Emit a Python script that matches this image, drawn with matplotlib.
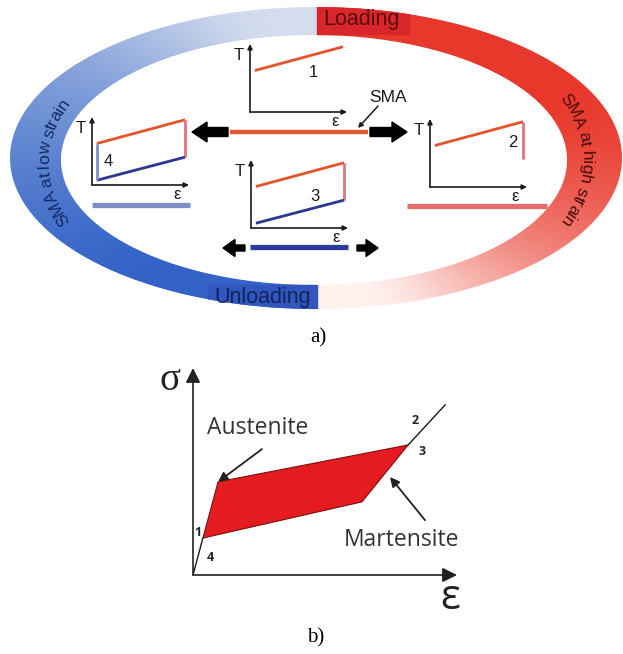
import numpy as np
import matplotlib
matplotlib.use("Agg")
import matplotlib.pyplot as plt
from matplotlib.patches import Ellipse, Rectangle, FancyArrow
from matplotlib.font_manager import FontProperties, findfont, get_font

# ------------------------------------------------------------------ data
# mini T-epsilon sketches (normalised units)
mini_strain = [0.05, 0.96]
T_loading = [0.61, 0.96]
T_unloading = [0.07, 0.41]
stage_labels = ["1", "2", "3", "4"]

# stress-strain loop of part b)
loop_strain = [0.30, 0.76, 6.52, 5.12]
loop_stress = [107, 270, 377, 212]
elastic_strain = [0.0, 0.30]
elastic_stress = [0, 107]
mart_strain = [6.52, 7.64]
mart_stress = [377, 493]

RED_LINE = "#e4542c"
BLUE_LINE = "#2b3790"
PINK_LINE = "#e3717c"

W, H = 623, 654
fig = plt.figure(figsize=(W / 100, H / 100), dpi=100)
bg = fig.add_axes([0, 0, 1, 1])
bg.set_xlim(0, W)
bg.set_ylim(H, 0)
bg.axis("off")

# ------------------------------------------------------------------ ring
OCX, OCY, OA, OB = 316, 158, 306, 151
ICX, ICY, IA, IB = 314, 160, 253, 125
yy, xx = np.mgrid[0:H, 0:W] + 0.5


def soft(cx, cy, a, b):
    dx = xx - cx
    dy = yy - cy
    r = np.sqrt((dx / a) ** 2 + (dy / b) ** 2)
    dist = np.hypot(dx, dy)
    d = (1 - r) / np.maximum(r, 1e-6) * dist
    return np.clip(d + 0.5, 0, 1)


alpha = soft(OCX, OCY, OA, OB) * (1 - soft(ICX, ICY, IA, IB))
phi = np.degrees(np.arctan2(-(yy - OCY), xx - OCX))
phi2 = np.where(phi < 0, phi + 360, phi)
t = np.clip((90 - phi) / 180, 0, 1)
u = np.clip((270 - phi2) / 180, 0, 1)


def smooth(z):
    z = np.clip(z, 0, 1)
    return z * z * (3 - 2 * z)


s_red = 1 - 0.97 * smooth((t - 0.4) / 0.5)
s_blue = 1 - 0.9 * smooth((u - 0.3) / 0.6)
red = np.array([0.91, 0.22, 0.17])
blue = np.array([0.20, 0.39, 0.78])
white_r = np.array([1.0, 0.97, 0.96])
white_b = np.array([0.90, 0.92, 0.95])
right = (xx >= 317.5)[..., None]
col_r = s_red[..., None] * red + (1 - s_red[..., None]) * white_r
col_b = s_blue[..., None] * blue + (1 - s_blue[..., None]) * white_b
rgb = np.where(right, col_r, col_b)
img = np.dstack([rgb, alpha])
bg.imshow(img, extent=(0, W, H, 0), interpolation="bilinear", zorder=1)
bg.set_xlim(0, W)
bg.set_ylim(H, 0)

clip_e = Ellipse((OCX, OCY), 2 * OA, 2 * OB, transform=bg.transData)
r1 = Rectangle((317, 0), 92, 34, color="#d8262a", zorder=2)
bg.add_patch(r1)
r1.set_clip_path(clip_e)
clip_e2 = Ellipse((OCX, OCY), 2 * OA, 2 * OB, transform=bg.transData)
r2 = Rectangle((208, 285), 109, 40, color="#3157bf", zorder=2)
bg.add_patch(r2)
r2.set_clip_path(clip_e2)
bg.text(361, 20, "Loading", fontsize=15.5, family="Liberation Sans",
        color="#5a0d10", ha="center", va="center", zorder=3)
bg.text(263, 297, "Unloading", fontsize=15.5, family="Liberation Sans",
        color="#14235e", ha="center", va="center", zorder=3)


# curved ring labels
def curved_text(s, cx, cy, a, b, t0, fs, color):
    prop = FontProperties(family="Liberation Sans", size=fs)
    font = get_font(findfont(prop))
    font.set_size(fs, 100)
    adv = []
    for ch in s:
        g = font.load_char(ord(ch))
        adv.append(g.linearHoriAdvance / 65536.0)
    adv = np.array(adv)
    cum = np.concatenate([[0], np.cumsum(adv)])
    total = cum[-1]
    ts = np.linspace(-np.pi, 3 * np.pi, 8000)
    px = cx + a * np.cos(ts)
    py = cy + b * np.sin(ts)
    arc = np.concatenate([[0], np.cumsum(np.hypot(np.diff(px), np.diff(py)))])
    a0 = np.interp(t0, ts, arc)
    em = fs * 100 / 72
    for i, ch in enumerate(s):
        if ch == " ":
            continue
        c = cum[i] + adv[i] / 2 - total / 2
        ti = np.interp(a0 + c, arc, ts)
        x = cx + a * np.cos(ti)
        y = cy + b * np.sin(ti)
        dx = -a * np.sin(ti)
        dy = b * np.cos(ti)
        rot = np.degrees(np.arctan2(-dy, dx))
        rr = np.radians(rot)
        upx, upy = -np.sin(rr), -np.cos(rr)
        bg.text(x - upx * 0.35 * em, y - upy * 0.35 * em, ch, rotation=rot,
                rotation_mode="anchor", ha="center", va="baseline", fontsize=fs,
                family="Liberation Sans", color=color, zorder=3)


curved_text("SMA at low strain", 316, 162, 273, 158, np.pi, 12.5, "#152a66")
curved_text("SMA at high strain", 316, 160, 272, 158, 0.0, 12.5, "#4a0c0c")

# ------------------------------------------------------------------ mini charts
MW, MH = 97, 68


def mini(x0, y0):
    ax = fig.add_axes([x0 / W, 1 - y0 / H, MW / W, MH / H])
    ax.set_xlim(0, 1)
    ax.set_ylim(0, 1)
    ax.axis("off")
    ap = dict(arrowstyle="-|>", lw=1.2, color="#1a1a1a", mutation_scale=7,
              shrinkA=0, shrinkB=0)
    ax.annotate("", xy=(0, 1.0), xytext=(0, 0), arrowprops=ap, annotation_clip=False)
    ax.annotate("", xy=(1.0, 0), xytext=(0, 0), arrowprops=ap, annotation_clip=False)
    ax.text(-0.12, 0.83, "T", fontsize=12, family="Liberation Sans",
            ha="center", va="center", color="#1a1a1a")
    ax.text(0.88, -0.14, "ε", fontsize=12, family="Liberation Sans",
            ha="center", va="center", color="#1a1a1a")
    return ax


# chart 1
ax1 = mini(250, 112)
ax1.plot(mini_strain, T_loading, color=RED_LINE, lw=2, solid_capstyle="butt")
ax1.text(0.65, 0.58, stage_labels[0], fontsize=12, family="Liberation Sans",
         ha="center", va="center", color="#1a1a1a")

# chart 2
ax2 = mini(430, 187)
ax2.plot(mini_strain, T_loading, color=RED_LINE, lw=2, solid_capstyle="butt")
ax2.plot([mini_strain[1]] * 2, [T_loading[1], T_unloading[1]], color=PINK_LINE,
         lw=2, solid_capstyle="butt")
ax2.text(0.85, 0.66, stage_labels[1], fontsize=12, family="Liberation Sans",
         ha="center", va="center", color="#1a1a1a")

# chart 3
ax3 = mini(251, 228)
ax3.plot(mini_strain, T_loading, color=RED_LINE, lw=2, solid_capstyle="butt")
ax3.plot([mini_strain[1]] * 2, [T_loading[1], T_unloading[1]], color=PINK_LINE,
         lw=2, solid_capstyle="butt")
ax3.plot(mini_strain, T_unloading, color=BLUE_LINE, lw=2, solid_capstyle="butt")
ax3.text(0.66, 0.46, stage_labels[2], fontsize=12, family="Liberation Sans",
         ha="center", va="center", color="#1a1a1a")

# chart 4
ax4 = mini(92, 185)
ax4.plot(mini_strain, T_loading, color=RED_LINE, lw=2, solid_capstyle="butt")
ax4.plot([mini_strain[1]] * 2, [T_loading[1], T_unloading[1]], color=PINK_LINE,
         lw=2, solid_capstyle="butt")
ax4.plot(mini_strain, T_unloading, color=BLUE_LINE, lw=2, solid_capstyle="butt")
ax4.plot([mini_strain[0]] * 2, [T_unloading[0], T_loading[0]], color="#7f8fc2",
         lw=2, solid_capstyle="butt")
ax4.text(0.17, 0.34, stage_labels[3], fontsize=12, family="Liberation Sans",
         ha="center", va="center", color="#1a1a1a")

# SMA bars
bg.plot([230, 368], [132, 132], color="#e25a32", lw=3.2, solid_capstyle="butt", zorder=3)
bg.plot([407, 547], [206, 206], color="#e96b6b", lw=3.8, solid_capstyle="butt", zorder=3)
bg.plot([92, 190], [205, 205], color="#7d8ec8", lw=3.8, solid_capstyle="butt", zorder=3)
bg.plot([250, 348], [247, 247], color="#2c3b99", lw=3.8, solid_capstyle="butt", zorder=3)

# black arrows
for x, y, dx, wid, hw, hl in [(228, 132, -36, 9, 20, 15), (370, 132, 37, 9, 20, 15),
                              (245, 248, -22, 6, 17, 12), (357, 248, 21, 6, 17, 12)]:
    bg.add_patch(FancyArrow(x, y, dx, 0, width=wid, head_width=hw, head_length=hl,
                            length_includes_head=True, color="black", zorder=4))

bg.text(388, 97, "SMA", fontsize=12.5, family="Liberation Sans", ha="center",
        va="center", color="#1a1a1a", zorder=4)
bg.annotate("", xy=(358, 128), xytext=(378, 106),
            arrowprops=dict(arrowstyle="-|>", lw=1.1, color="#1a1a1a",
                            mutation_scale=7, shrinkA=0, shrinkB=0), zorder=4)

bg.text(318, 338, "a)", fontsize=15, family="Liberation Serif", ha="center",
        va="center", color="black")
bg.text(316, 638, "b)", fontsize=15, family="Liberation Serif", ha="center",
        va="center", color="black")

# ------------------------------------------------------------------ part b
X0, Y0, X1, Y1 = 193, 575, 457, 368
axb = fig.add_axes([X0 / W, 1 - Y0 / H, (X1 - X0) / W, (Y0 - Y1) / H])
axb.set_xlim(0, 8)
axb.set_ylim(0, 600)
axb.axis("off")
axb.fill(loop_strain, loop_stress, facecolor="#e41b1f", edgecolor="#7a1010",
         lw=0.8, zorder=2)
axb.plot(elastic_strain, elastic_stress, color="#1a1a1a", lw=1.0, zorder=3)
axb.plot(mart_strain, mart_stress, color="#1a1a1a", lw=1.0, zorder=3)
apb = dict(arrowstyle="-|>", lw=1.2, color="#222222", mutation_scale=22,
           shrinkA=0, shrinkB=0)
axb.annotate("", xy=(8.0, 0), xytext=(0, 0), arrowprops=apb, annotation_clip=False)
axb.annotate("", xy=(0, 600), xytext=(0, 0), arrowprops=apb, annotation_clip=False)
axb.text(-0.70, 565, "σ", fontsize=28, family="Liberation Serif", ha="center",
         va="center", color="#222222")
axb.text(7.79, -67, "ε", fontsize=30, family="Open Sans", ha="center",
         va="center", color="#222222")
axb.text(1.97, 425, "Austenite", fontsize=16.5, family="Open Sans", ha="center",
         va="center", color="#333333")
axb.text(6.33, 101, "Martensite", fontsize=16.5, family="Open Sans", ha="center",
         va="center", color="#333333")
apa = dict(arrowstyle="-|>", lw=1.3, color="#222222", mutation_scale=14,
           shrinkA=0, shrinkB=0)
axb.annotate("", xy=(loop_strain[1], loop_stress[1]), xytext=(2.09, 365),
             arrowprops=apa, annotation_clip=False)
axb.annotate("", xy=(5.97, 284), xytext=(7.03, 159), arrowprops=apa,
             annotation_clip=False)
for lab, xs, ys in [("1", 0.15, 122), ("4", 0.52, 52), ("2", 6.73, 449), ("3", 6.94, 357)]:
    axb.text(xs, ys, lab, fontsize=9, fontweight="bold", family="Open Sans",
             ha="center", va="center", color="#222222", zorder=4)

fig.savefig("out.png", dpi=100)
